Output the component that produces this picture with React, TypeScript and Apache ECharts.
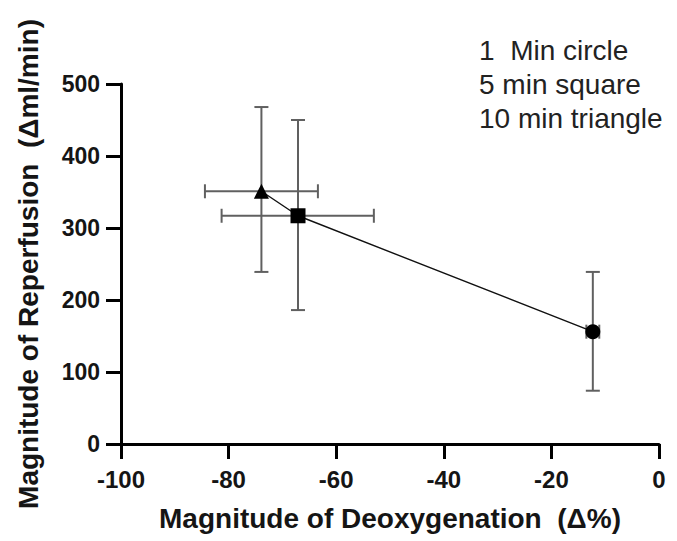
import React, { useEffect, useRef } from "react";
import * as echarts from "echarts";

const labels = ["1 Min", "5 min", "10 min"];
const symbols = ["circle", "rect", "triangle"];
const xMean = [-12.3, -67.1, -73.9];
const yMean = [156, 317, 351];
const xLow = [-13.5, -81.3, -84.4];
const xHigh = [-11.1, -53.0, -63.4];
const yLow = [74, 186, 239];
const yHigh = [239, 450, 468];
const annotation = ["1  Min circle", "5 min square", "10 min triangle"];

export default function App() {
  const ref = useRef<HTMLDivElement>(null);
  useEffect(() => {
    if (!ref.current) return;
    const chart = echarts.init(ref.current, undefined, { renderer: "svg" });
    const font = "Liberation Sans, Arial, sans-serif";
    const errData = xMean.map((x, i) => [x, yMean[i], xLow[i], xHigh[i], yLow[i], yHigh[i]]);
    const cap = 7;
    const errStyle = { stroke: "#606060", lineWidth: 2 };
    chart.setOption({
      animation: false,
      backgroundColor: "#fff",
      grid: { left: 121, right: 18, top: 84, bottom: 97, containLabel: false },
      xAxis: {
        type: "value",
        min: -100,
        max: 0,
        interval: 20,
        name: "Magnitude of Deoxygenation  (Δ%)",
        nameLocation: "middle",
        nameGap: 60,
        nameTextStyle: { fontFamily: font, fontWeight: "bold", fontSize: 28, color: "#151515" },
        axisLine: { onZero: false, lineStyle: { color: "#000", width: 3 } },
        axisTick: { length: 15, lineStyle: { color: "#000", width: 3 } },
        axisLabel: { fontFamily: font, fontWeight: "bold", fontSize: 24, color: "#151515", margin: 23 },
        splitLine: { show: false },
      },
      yAxis: {
        type: "value",
        min: 0,
        max: 500,
        interval: 100,
        name: "Magnitude of Reperfusion  (Δml/min)",
        nameLocation: "middle",
        nameGap: 79,
        nameTextStyle: { fontFamily: font, fontWeight: "bold", fontSize: 28, color: "#151515" },
        axisLine: { onZero: false, lineStyle: { color: "#000", width: 3 } },
        axisTick: { length: 15, lineStyle: { color: "#000", width: 3 } },
        axisLabel: { fontFamily: font, fontWeight: "bold", fontSize: 23, color: "#151515", margin: 21 },
        splitLine: { show: false },
      },
      series: [
        {
          type: "custom",
          name: "error",
          data: errData,
          z: 1,
          renderItem: (params: any, api: any) => {
            const x = api.value(0), y = api.value(1);
            const xl = api.value(2), xh = api.value(3), yl = api.value(4), yh = api.value(5);
            const pL = api.coord([xl, y]);
            const pH = api.coord([xh, y]);
            const pB = api.coord([x, yl]);
            const pT = api.coord([x, yh]);
            return {
              type: "group",
              children: [
                { type: "line", shape: { x1: pL[0], y1: pL[1], x2: pH[0], y2: pH[1] }, style: errStyle },
                { type: "line", shape: { x1: pL[0], y1: pL[1] - cap, x2: pL[0], y2: pL[1] + cap }, style: errStyle },
                { type: "line", shape: { x1: pH[0], y1: pH[1] - cap, x2: pH[0], y2: pH[1] + cap }, style: errStyle },
                { type: "line", shape: { x1: pB[0], y1: pB[1], x2: pT[0], y2: pT[1] }, style: errStyle },
                { type: "line", shape: { x1: pB[0] - cap, y1: pB[1], x2: pB[0] + cap, y2: pB[1] }, style: errStyle },
                { type: "line", shape: { x1: pT[0] - cap, y1: pT[1], x2: pT[0] + cap, y2: pT[1] }, style: errStyle },
              ],
            };
          },
        },
        {
          type: "line",
          name: "mean",
          z: 3,
          data: xMean.map((x, i) => ({
            name: labels[i],
            value: [x, yMean[i]],
            symbol: symbols[i],
            symbolSize: 15,
          })),
          lineStyle: { color: "#111", width: 1.4 },
          itemStyle: { color: "#000" },
        },
      ],
      graphic: [
        {
          type: "text",
          left: 479,
          top: 33,
          style: {
            text: annotation.join("\n"),
            fontFamily: font,
            fontSize: 28,
            lineHeight: 34,
            fill: "#222",
          },
        },
      ],
    });
    return () => chart.dispose();
  }, []);
  return <div ref={ref} style={{ position: "fixed", left: 0, top: 0, width: 677, height: 541 }} />;
}
